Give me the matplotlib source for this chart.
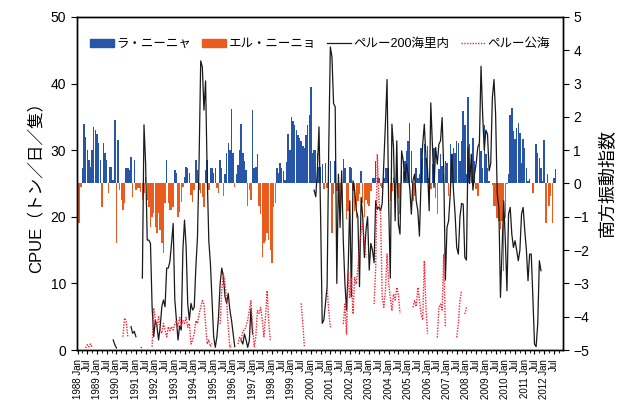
import numpy as np
import matplotlib
matplotlib.use('Agg')
import matplotlib.pyplot as plt
from matplotlib.patches import Patch
from matplotlib.lines import Line2D
from matplotlib.ticker import MultipleLocator

plt.rcParams['font.family'] = ['Liberation Sans', 'Noto Sans CJK JP']

N = None
years = list(range(1988, 2013))

# southern oscillation index, monthly, Jan 1988 - Dec 2012
soi = [
    -0.5, -1.2, -0.1, 0.45, 1.8, 1.4, 1.0, 0.7, 0.5, 1.0, 1.7, 1.6,
    1.5, 1.2, 0.7, -0.7, 1.2, 0.9, 0.7, -0.3, 0.5, 0.5, 0.1, 1.9,
    -1.8, 1.3, -0.2, -0.5, -0.8, -0.6, 0.45, 0.45, 0.4, 0.8, -0.4, 0.7,
    -0.2, -0.15, -0.15, -0.25, -0.5, -0.3, 0.2, -0.5, -0.7, -1.3, -1.0, -0.9,
    -1.3, -1.5, -0.9, -1.4, -1.8, -2.1, -0.6, 0.7, -0.6, -0.8, -0.8, -0.7,
    0.4, 0.3, -1.0, -0.85, -0.55, -0.1, 0.2, 0.5, 0.45, 0.3, -0.35, -0.55,
    -0.2, 0.7, 0.4, -0.2, -0.3, -0.4, -0.7, 0.4, 0.7, -0.2, 0.45, 0.45,
    0.3, 0.47, -0.13, -0.28, 0.7, 0.47, -0.38, 0.27, 0.9, 1.2, 1.0, 2.25,
    0.9, -0.1, 0.27, 0.55, 1.0, 1.8, 0.9, 0.67, 0.4, -0.68, -0.2, -0.5,
    2.2, 0.47, 0.5, 0.87, -0.68, -0.93, -2.2, -1.8, -1.73, -1.48, -1.7, -2.0,
    -2.4, -0.7, -0.6, 0.47, 0.3, 0.6, 0.47, 0.37, 0.1, 0.65, 1.5, 1.0,
    2.0, 1.87, 1.77, 1.6, 1.47, 1.37, 1.27, 1.12, 1.07, 1.47, 1.77, 2.07,
    2.9, 0.9, 1.0, 1.0, 0.9, 0.5, 0.5, 0.57, -0.18, 0.62, -0.13, 0.37,
    0.67, -1.5, -0.33, 0.67, -0.23, 0.17, -0.78, 0.32, 0.72, 0.47, -1.08, -0.83,
    0.5, 0.47, -0.23, -0.83, -1.03, -0.53, -0.33, 0.37, -0.6, -1.0, -0.5, -0.63,
    -0.68, -0.23, 0.17, 0.17, 0.67, 0.17, 0.17, -0.08, -0.13, 0.17, 0.47, 0.47,
    0.47, -0.53, -0.23, 0.17, -0.13, 0.27, -0.43, -0.93, 0.57, 0.37, 0.67, 0.97,
    1.27, 1.82, 0.97, -0.53, -0.38, 0.47, 0.17, 0.27, 1.07, 0.77, 1.17, 0.77,
    1.12, 0.17, -0.18, 0.57, 1.07, -0.43, -0.93, 0.42, 0.87, 0.52, 0.27, 0.67,
    0.62, -0.38, 1.17, 0.87, 1.07, 0.92, 1.27, 1.2, 0.67, 1.27, 2.17, 1.77,
    0.27, 2.59, 1.17, 0.57, 1.37, 0.67, -0.18, -0.38, 1.17, 0.97, 0.47, 1.77,
    0.87, 0.47, 0.07, 0.0, -0.05, -0.68, -0.68, -1.03, -1.13, -1.38, -1.13, -2.63,
    -1.03, -0.03, 0.29, 2.07, 2.27, 1.57, 1.32, 1.67, 1.82, 1.52, 0.62, 1.32,
    1.07, 0.47, 0.07, 0.12, 0.0, -0.28, 0.0, 1.17, 0.92, 0.77, 0.47, 0.07,
    1.29, -1.18, 0.27, -0.68, -0.38, -1.18, 0.17, 0.42, N, N, N, N,
]

# CPUE inside Peru 200 nautical miles
cpue_200 = [
    N, N, N, N, N, N, N, N, N, N, N, N,
    N, N, N, N, N, N, N, N, N, N, 1.5, 0.8,
    0.3, N, N, N, N, N, N, N, N, 3.5, 2.5, 2.8,
    2.0, N, N, N, 10.8, 33.8, 28, 16.5, 16.5, 16, 6.5, 2.0,
    4.5, 3.5, 1.5, 3.5, 6.5, 7.5, 6.5, 12.3, 12.3, 13.3, 16, 19,
    7.6, 4.5, 1.5, 3.6, 3.0, 15, 19.5, 15.5, 6.9, 4.5, 7.0, 6.0,
    6.4, 12.4, 16.9, 28.4, 43.4, 42.5, 36, 40.4, 26.4, 16.4, 12.9, 7.4,
    2.0, 0.4, 2.0, 5.0, 10, 12.3, 11, 8, 7, 8.5, 6, 4.5,
    2.5, 0.5, N, N, N, 1.4, 0.9, 2.4, 1.5, 0.4, 1.4, 6.2,
    2.4, N, N, N, N, N, N, N, N, N, N, N,
    N, N, N, N, N, N, N, N, N, N, N, N,
    N, N, N, N, N, N, N, N, N, N, N, N,
    N, N, 24, 23, 27, 33.5, 20, 4, 4.5, 7, 9.5, 30,
    45.5, 44, 37, 36.5, 10, 26.4, 18.4, 26.9, 16.4, 10, 6.0, 12,
    22.4, 8, 25.4, 24, 21, 20, 9.5, 22.9, 20, 13.9, 18, 20,
    12, 16, 15, 13.1, 22.4, 21.1, 21.5, 20.9, 22, 27.9, 34, 40.6,
    21.9, 10.8, 33.9, 30.4, 19.4, 31.4, 18.9, 17.4, 29.9, 28.4, 25.4, 27.9,
    26.4, 24.4, 20.4, 25.4, 26.4, 22.4, 20.9, 17.1, 25.4, 30.9, 33.9, 28.9,
    27.1, 20.9, 37.1, 30.9, 24.4, 30.4, 27.9, 30.9, 31.4, 34.9, 26.9, 10.5,
    18.4, 19.4, 23.4, 29.4, 23.9, 20.4, 15.4, 14.4, 20, 22, 21.9, 13.9,
    13.5, 30.4, 25, 29.4, 24, 26.4, 28, 30.4, 31.1, 42.6, 35.4, 30,
    33, 32.4, 26.9, 28, 37.9, 40.6, 35.4, 23.4, 21.4, 7.9, 15, 22.4,
    16.4, 8.9, 20.4, 21.4, 17.4, 15.4, 16.4, 15, 13.4, 15, 20.4, 21.4,
    17.9, 15, 10.4, 14.4, 14.4, 7.9, 0.9, 0.5, 3.9, 13.4, 11.9, N,
    N, N, N, N, N, N, N, N, N, N, N, N,
]

# CPUE on the high seas off Peru
cpue_high = [
    N, N, N, N, N, 0.3, 0.8, 0.5, 0.9, 0.4, N, N,
    N, N, N, N, N, N, N, N, N, N, N, N,
    N, N, N, N, 2.0, 4.8, 4.3, 2.0, N, N, N, N,
    N, N, N, 0.3, 0.6, N, N, N, N, N, 0.5, 6.3,
    4.5, 3.5, 5.0, 3.0, 2.5, 4.0, 3.0, 2.0, 3.5, 2.9, 3.5, 3.0,
    3.9, 4.4, 3.5, 4.9, 3.5, 4.4, 4.0, 4.9, 3.4, 4.0, 0.9, 1.5,
    2.5, 4.4, 4.0, 5.4, 6.4, 7.4, 6.9, 3.9, 0.9, 1.5, 0.5, 1.0,
    N, N, N, N, 3.9, 9, 11.5, 10, 7.4, 3.4, 0.4, 0.8,
    N, N, N, 0.9, 1.9, 1.5, 2.9, 3.0, 3.6, 4.5, 5.9, 7.4,
    3.4, 0.5, 2.0, 5.9, 5.5, 6.4, 4.5, 2.0, 5.0, 8.9, 4.0, 1.4,
    N, N, N, N, N, N, N, N, N, N, N, N,
    N, N, N, N, N, N, 7.0, 4.0, 0.4, N, N, N,
    N, N, N, N, N, N, N, N, N, N, 9.4, 6.0,
    3.4, N, N, N, N, N, N, N, 3.9, 6.9, 2.4, 11.9,
    7.9, 10.9, 5.4, 10.9, 9.9, 12.4, 15.4, 17.9, 18.9, 16.4, 13.9, N,
    N, N, N, 6.9, 12.4, 29.4, 22.4, 20.4, 7.9, 6.4, 8.9, 14.4,
    10, 7.9, 5.9, 8.4, 7.5, 9.4, 8.4, 5.5, N, N, N, N,
    N, N, N, 6.4, 7.4, 6.5, 9.4, 7.5, 5.4, 4.5, 13.4, 6.4,
    2.4, N, N, N, N, N, 1.9, 6.4, 6.9, 6.0, 14.4, 3.4,
    N, N, N, N, N, N, 1.9, 4.0, 7.4, 8.9, N, 5.4,
    6.4, N, N, N, N, N, N, N, N, N, N, N,
    N, N, N, N, N, N, N, N, N, N, N, N,
    N, N, N, N, N, N, N, N, N, N, N, N,
    N, N, N, N, N, N, N, N, N, N, N, N,
    N, N, N, N, N, N, N, N, N, N, N, N,
]

soi = np.array(soi, dtype=float)
cpue_200 = np.array(cpue_200, dtype=float)
cpue_high = np.array(cpue_high, dtype=float)
x = np.arange(len(soi))

blue = '#2756a8'
orange = '#ea5b1e'

fig = plt.figure(figsize=(6.24, 4.03), dpi=100)
ax = fig.add_axes([0.123, 0.1315, 0.779, 0.8265])

# bars on the SOI scale (right side)
pos = np.where(soi > 0, soi, 0)
neg = np.where(soi < 0, soi, 0)
ax.bar(x, pos, width=0.9, color=blue, linewidth=0)
ax.bar(x, neg, width=0.9, color=orange, linewidth=0)
ax.set_ylim(-5, 5)
ax.set_yticks(range(-5, 6))

# CPUE lines (left side), drawn above the bars
ax2 = ax.twinx()
ax2.plot(x, cpue_200, color='#1a1a1a', lw=0.9)
ax2.plot(x, cpue_high, color='#ff2030', lw=1.0, ls=(0, (1, 1)))
ax2.set_ylim(0, 50)
ax2.set_yticks(range(0, 51, 10))

ax.yaxis.tick_right()
ax.yaxis.set_label_position('right')
ax2.yaxis.tick_left()
ax2.yaxis.set_label_position('left')
ax.set_ylabel('南方振動指数', fontsize=13, labelpad=7)
ax2.set_ylabel('CPUE（トン／日／隻）', fontsize=12, labelpad=5)

ax.set_xlim(-0.5, len(soi) - 0.5)
ticks = x[::6]
labels = []
for t in ticks:
    if t % 12 == 0:
        labels.append(f'{years[t // 12]} Jan')
    else:
        labels.append('Jul')
ax.set_xticks(ticks)
ax.set_xticklabels(labels, rotation=90, fontsize=7)
ax.xaxis.set_minor_locator(MultipleLocator(3))

for a in (ax, ax2):
    a.tick_params(axis='y', direction='out', length=4, width=0.8, labelsize=10)
    for s in a.spines.values():
        s.set_linewidth(1.0)
ax.tick_params(axis='x', which='major', labelsize=7, length=3, width=0.8)
ax.tick_params(axis='x', which='minor', length=2, width=0.6)

handles = [Patch(color=blue), Patch(color=orange),
           Line2D([], [], color='#1a1a1a', lw=0.9),
           Line2D([], [], color='#ff2030', lw=1.0, ls=(0, (1, 1)))]
names = ['ラ・ニーニャ', 'エル・ニーニョ', 'ペルー200海里内', 'ペルー公海']
ax2.legend(handles, names, loc='upper center', ncol=4, frameon=False,
           fontsize=9, handlelength=1.9, handleheight=0.6,
           columnspacing=0.9, handletextpad=0.2, borderaxespad=1.3)

fig.savefig('out.png', dpi=100)
